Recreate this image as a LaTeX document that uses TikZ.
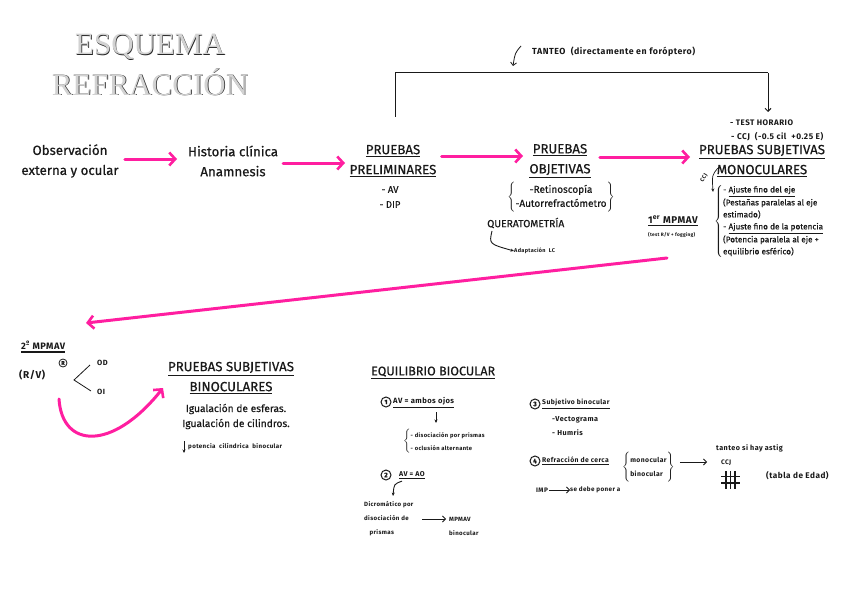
\documentclass[tikz,border=0pt]{standalone}
\usepackage{fontspec}
\setmainfont{Fira Sans}[FakeBold=0.5]
\newfontfamily\titlefont{Liberation Serif}
\newfontfamily\hwfontr{Fira Sans}[LetterSpace=6]
\newcommand\hwfont{\hwfontr\bfseries}
\newcommand\uln[1]{\leavevmode\vtop{\hbox{#1}\kern1.6pt\hrule height 1.2pt}}
\usetikzlibrary{arrows.meta}
\definecolor{pinkarr}{RGB}{255,30,160}
\definecolor{inkc}{RGB}{25,25,25}
\tikzset{
  every node/.style={inner sep=0pt, text=inkc},
  main/.style={font=\fontsize{13.3}{20}\selectfont, align=center},
  midtxt/.style={font=\fontsize{10.2}{15}\selectfont, align=center},
  hw/.style={font=\hwfont\fontsize{7}{12}\selectfont, anchor=west},
  tiny/.style={font=\hwfont\fontsize{5.5}{8}\selectfont, anchor=west},
  pinkarrow/.style={draw=pinkarr, line width=3pt, line cap=round,
    -{Straight Barb[length=6pt,width=13pt,line width=2.6pt]}},
  inkarrow/.style={draw=inkc, line width=0.8pt, -{Straight Barb[length=3pt,width=6pt]}},
  fillarrow/.style={draw=inkc, line width=0.9pt, -{Stealth[length=3.5pt,width=3pt]}},
  numc/.style={circle, draw=inkc, line width=1pt, minimum size=10pt, font=\fontsize{6.5}{6}\selectfont\bfseries},
  titlebk/.style={font=\titlefont\fontsize{31}{34}\selectfont, text=black!85},
  titlefg/.style={font=\titlefont\fontsize{31}{34}\selectfont, text=gray!35},
}
\begin{document}
\begin{tikzpicture}[x=1pt,y=-1pt]
\useasboundingbox[fill=white] (0,0) rectangle (848,599);

% title
\node[titlebk] (t1b) at (150.7,47.7) {ESQUEMA};
\node[titlefg] (t1) at (150,47) {ESQUEMA};
\node[titlebk] (t2b) at (150.7,82.7) {REFRACCIÓN};
\node[titlefg] (t2) at (150,82) {REFRACCIÓN};

% main row
\node[main] (obs) at (70,161) {Observación\\externa y ocular};
\node[main] (hist) at (233,161) {Historia clínica\\Anamnesis};
\node[main] (prel) at (393,161) {\uln{PRUEBAS}\\\uln{PRELIMINARES}};
\node[midtxt, font=\fontsize{9.5}{15}\selectfont] (prelL) at (390,197) {- AV\\- DIP};
\node[main] (obj) at (560,161) {\uln{PRUEBAS}\\\uln{OBJETIVAS}};
\node[main] (mono) at (762,161) {\uln{PRUEBAS SUBJETIVAS}\\\uln{MONOCULARES}};

\draw[pinkarrow] (obs.east |- 0,159) ++(6,0) -- (177,159);
\draw[pinkarrow] (hist.east |- 0,163) ++(5,0) -- (345,163);
\draw[pinkarrow] (prel.east |- 0,156) ++(5,0) -- (523,156);
\draw[pinkarrow] (obj.east |- 0,157) ++(9,0) -- (690,157);

% objetivas list
\node[font=\fontsize{10}{14}\selectfont] (objL) at (561,197)
  {$\left\{\vcenter{\hbox{\begin{tabular}{@{}c@{}}-Retinoscopía\\-Autorrefractómetro\end{tabular}}}\right\}$};
\node[font=\fontsize{10.3}{12}\selectfont, anchor=west] (quer) at (487,223) {QUERATOMETRÍA};
\node[tiny] (adap) at (514,251) {Adaptación\ \ LC};
\coordinate (qa) at (492,231);
\draw[fillarrow] (qa) .. controls (489,244) .. (adap.west);

% tanteo bracket
\coordinate (tL) at (395,117);
\coordinate (tR) at (768,73);
\coordinate (tE) at (768,112);
\draw[draw=inkc, line width=1pt] (tL) |- (tR);
\draw[inkarrow, line width=1pt] (tR) -- (tE);
\node[hw, font=\hwfont\fontsize{8.8}{10}\selectfont] (tanteo) at (532,52) {TANTEO\ \ (directamente en foróptero)};
\coordinate (tc1) at (521,46);
\coordinate (tc2) at (513,66);
\draw[inkarrow] (tc1) .. controls (515,53) .. (tc2);

\node[hw, font=\hwfont\fontsize{8}{10}\selectfont] (horario) at (730,123) {- TEST HORARIO};
\node[hw, font=\hwfont\fontsize{8.3}{10}\selectfont] (ccjtop) at (731,137) {- CCJ\ \ (-0.5 cil\ \ +0.25 E)};

% monocular details
\node[font=\hwfont\fontsize{5.5}{6}\selectfont, rotate=60] (ccjrot) at (704,178) {CCJ};
\coordinate (mc1) at (718,168);
\coordinate (mc2) at (713,192);
\draw[fillarrow, line width=0.7pt] (mc1) .. controls (712,175) .. (mc2);
\node[anchor=west, font=\fontsize{8.2}{12}\selectfont, align=left] (monoL) at (714,221)
  {$\left\{\vcenter{\hbox{\begin{tabular}{@{}l@{}}- \uln{Ajuste fino del eje}\\(Pestañas paralelas al eje\\estimado)\\- \uln{Ajuste fino de la potencia}\\(Potencia paralela al eje +\\equilibrio esférico)\end{tabular}}}\right.$};

% 1er MPMAV
\node[anchor=west, font=\hwfont\fontsize{9.8}{10}\selectfont] (mp1) at (648,221) {\uln{1\textsuperscript{er} MPMAV}};
\node[tiny, font=\hwfont\fontsize{4.8}{6}\selectfont] (mp1b) at (648,235) {(test R/V + fogging)};

% long pink arrow
\coordinate (lpA) at (667,258);
\coordinate (lpB) at (86,323);
\draw[pinkarrow] (lpA) -- (lpB);

% 2 MPMAV
\node[anchor=west, font=\hwfont\fontsize{9.3}{10}\selectfont] (mp2) at (21,347) {\uln{2\textsuperscript{º} MPMAV}};
\node[anchor=west, font=\hwfont\fontsize{10}{10}\selectfont] (rv) at (19,375) {(R/V)};
\node[circle, draw=inkc, line width=0.8pt, minimum size=8pt, font=\fontsize{5.5}{6}\selectfont\bfseries] (rc) at (63,363) {R};
\coordinate (vA) at (90,365);
\coordinate (vM) at (74,380);
\coordinate (vB) at (91,391);
\draw[draw=inkc, line width=0.8pt] (vA) -- (vM) -- (vB);
\node[anchor=west, font=\hwfont\fontsize{7.5}{8}\selectfont] (od) at (97,363) {OD};
\node[anchor=west, font=\hwfont\fontsize{7.5}{8}\selectfont] (oi) at (97,392) {OI};

% binoculares
\node[main] (bino) at (231,378) {\uln{PRUEBAS SUBJETIVAS}\\\uln{BINOCULARES}};
\node[midtxt] (igual) at (236,416.5) {Igualación de esferas.\\Igualación de cilindros.};
\node[tiny, font=\hwfont\fontsize{6.2}{8}\selectfont] (potc) at (188,447) {potencia\ \ cilíndrica\ \ binocular};
\draw[fillarrow, line width=0.9pt] (potc.west) ++(-4,-6) -- ++(0,12);
\coordinate (cA) at (59,399);
\draw[pinkarrow] (cA) .. controls (62,448) and (112,452) .. (163,388);

% equilibrio biocular
\node[anchor=west, font=\fontsize{12.5}{12}\selectfont] (eqb) at (371,373) {\uln{EQUILIBRIO BIOCULAR}};
\node[numc] (n1) at (386,402) {1};
\node[hw, font=\hwfont\fontsize{7.6}{9}\selectfont] (av1) at (393,403) {\uln{AV = ambos ojos}};
\draw[fillarrow] (436,412) -- (436,423);
\node[anchor=west, font=\hwfont\fontsize{5.8}{13}\selectfont] (diso) at (403,441)
  {$\left\{\vcenter{\hbox{\begin{tabular}{@{}l@{}}- disociación por prismas\\- oclusión alternante\end{tabular}}}\right.$};
\node[numc] (n2) at (386,475) {2};
\node[hw, font=\hwfont\fontsize{7}{9}\selectfont] (av2) at (399,475) {\uln{AV = AO}};
\node[anchor=west, font=\hwfont\fontsize{6.1}{14}\selectfont, align=left] (dicro) at (364,519)
  {Dicromático por\\disociación de\\\ \ \ prismas};
\draw[fillarrow] (av2.south west) ++(3,2) .. controls (394,484) .. (393,496);
\node[anchor=west, font=\hwfont\fontsize{6.1}{14}\selectfont, align=left] (mpb) at (449,526)
  {MPMAV\\binocular};
\draw[inkarrow] (422,519) -- (446,519);

\node[numc] (n3) at (535,404) {3};
\node[hw, font=\hwfont\fontsize{6.8}{9}\selectfont] (subb) at (542,404) {\uln{Subjetivo binocular}};
\node[anchor=west, font=\hwfont\fontsize{7.2}{14}\selectfont, align=left] (vect) at (552,426) {-Vectograma\\- Humris};
\node[numc] (n4) at (535,461) {4};
\node[hw, font=\hwfont\fontsize{6.8}{9}\selectfont] (rcerca) at (542,461) {\uln{Refracción de cerca}};
\node[anchor=west, font=\hwfont\fontsize{6.8}{14}\selectfont] (mb) at (622,467)
  {$\left\{\vcenter{\hbox{\begin{tabular}{@{}l@{}}monocular\\binocular\end{tabular}}}\right\}$};
\draw[inkarrow] (mb.east |- 0,462) ++(5,0) -- (707,462);
\node[hw, font=\hwfont\fontsize{7.2}{9}\selectfont] (tant) at (716,448) {tanteo si hay astig};
\node[hw, font=\hwfont\fontsize{6.5}{9}\selectfont] (ccj2) at (721,463) {CCJ};
\node[hw, font=\hwfont\fontsize{8.2}{9}\selectfont] (tabla) at (766,476) {(tabla de Edad)};
\draw[draw=inkc, line width=1.1pt] (726,471) -- (726,489) (730.5,471) -- (730.5,489) (735,471) -- (735,489)
  (721,476.5) -- (740,476.5) (721,483) -- (740,483);
\node[hw, font=\hwfont\fontsize{6.5}{9}\selectfont] (imp) at (536,490) {IMP};
\node[hw, font=\hwfont\fontsize{6.3}{9}\selectfont] (imp2) at (570,490) {se debe poner a};
\draw[inkarrow] (imp.east) ++(1,0) -- (imp2.west);
\end{tikzpicture}
\end{document}
